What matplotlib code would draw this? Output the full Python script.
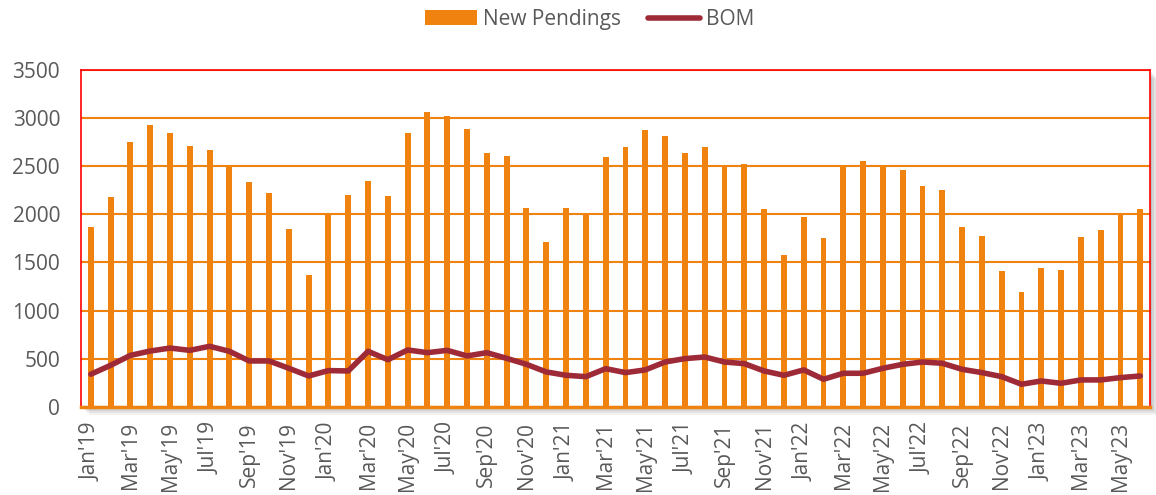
import matplotlib.pyplot as plt
import matplotlib.patches as mpatches
import numpy as np

# monthly data, Jan'19 .. Jun'23
years = ['19', '20', '21', '22', '23']
month_names = ['Jan', 'Feb', 'Mar', 'Apr', 'May', 'Jun', 'Jul', 'Aug', 'Sep', 'Oct', 'Nov', 'Dec']
months = [m + "'" + y for y in years for m in month_names][:54]

new_pendings = [1866, 2180, 2754, 2930, 2847, 2709, 2671, 2498, 2336, 2222, 1849, 1368,
                2018, 2197, 2349, 2190, 2847, 3061, 3016, 2888, 2633, 2605, 2063, 1710,
                2063, 2014, 2595, 2702, 2875, 2809, 2633, 2698, 2512, 2522, 2059, 1582,
                1976, 1752, 2498, 2557, 2498, 2463, 2298, 2256, 1866, 1776, 1410, 1195,
                1437, 1420, 1769, 1838, 1997, 2052]
bom = [339, 432, 535, 580, 611, 587, 629, 577, 477, 477, 401, 321,
       377, 373, 577, 490, 591, 563, 587, 529, 563, 504, 442, 363,
       328, 314, 397, 356, 384, 466, 501, 518, 466, 449, 373, 328,
       384, 287, 349, 349, 401, 442, 466, 453, 390, 356, 314, 235,
       269, 245, 280, 280, 304, 321]

bar_color = '#F0820F'
line_color = '#9E2A38'
text_color = '#595959'

plt.rcParams['font.family'] = ['Open Sans', 'DejaVu Sans']

fig = plt.figure(figsize=(11.56, 4.95), dpi=100)
ax = fig.add_axes([0.070, 0.178, 0.925, 0.681])
ax.set_zorder(5)

# soft drop shadow behind the plot area
for k, a in enumerate([0.05, 0.06, 0.07, 0.08]):
    off = (4 - k) * 0.0018
    fig.patches.append(mpatches.Rectangle((0.070 + off, 0.178 - off * 2.3), 0.925, 0.681,
                                          transform=fig.transFigure, color='black',
                                          alpha=a, zorder=0, lw=0))

x = np.arange(len(months))
bars = ax.bar(x, new_pendings, width=0.3, color=bar_color, label='New Pendings', zorder=2)
line, = ax.plot(x, bom, color=line_color, lw=4, label='BOM', zorder=3, solid_capstyle='round')

ax.set_xlim(-0.5, len(months) - 0.5)
ax.set_ylim(0, 3500)
ax.set_yticks(np.arange(0, 3501, 500))
ax.yaxis.grid(True, color=bar_color, lw=1.5, zorder=1)
ax.set_axisbelow(True)
ax.set_facecolor('white')

ax.set_xticks(x[::2])
ax.set_xticklabels(months[::2], rotation=90, fontsize=15, color=text_color)
ax.tick_params(axis='y', labelsize=15, labelcolor=text_color, length=0, pad=15)
ax.tick_params(axis='x', length=0, pad=11)

for side in ['top', 'left', 'right']:
    ax.spines[side].set_color('#FF0000')
    ax.spines[side].set_linewidth(1.2)
ax.spines['bottom'].set_color(bar_color)
ax.spines['bottom'].set_linewidth(2.5)

fig.legend([bars, line], ['New Pendings', 'BOM'], loc='upper center',
           bbox_to_anchor=(0.51, 1.02), ncol=2, frameon=False,
           fontsize=15, labelcolor=text_color, handlelength=2.5, columnspacing=1.3,
           handletextpad=0.3)

plt.savefig('out.png', dpi=100)
